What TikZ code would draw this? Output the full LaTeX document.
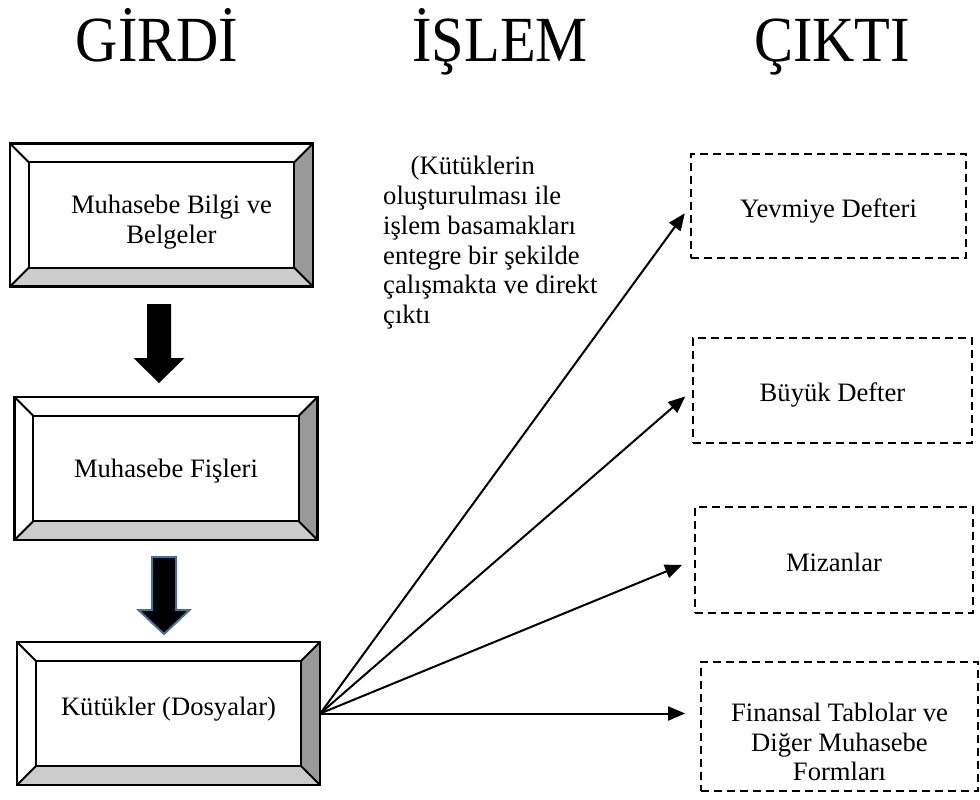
\documentclass[tikz,border=0pt]{standalone}
\usepackage{fontspec}
\setmainfont{Liberation Serif}
\usetikzlibrary{arrows.meta,calc}
\definecolor{sagkenar}{HTML}{999999}
\definecolor{altkenar}{HTML}{CCCCCC}
\definecolor{okmavi}{HTML}{41719C}

\tikzset{
 kutu/.style={minimum width=303pt, minimum height=143pt, inner sep=0pt},
 yazi/.style={font=\fontsize{26.6}{29.8}\selectfont, align=center, inner sep=0pt},
 cikti/.style={draw, dash pattern=on 8pt off 5pt, line width=1.8pt, inner sep=0pt,
   font=\fontsize{26.6}{29.8}\selectfont, align=center, text height=22pt, text depth=0pt},
 baslik/.style={font=\fontsize{58.5}{60}\selectfont, anchor=base, inner sep=0pt, yscale=1.1},
 ok/.style={line width=2pt, -{Triangle[length=17pt,width=14pt]}, shorten >=9pt}
}

% kabartmali cerceve
\newcommand{\cerceve}[1]{%
 \fill[sagkenar] (#1.north east) -- ([shift={(-19,19)}]#1.north east)
   -- ([shift={(-19,-19)}]#1.south east) -- (#1.south east) -- cycle;
 \fill[altkenar] (#1.south west) -- ([shift={(19,-19)}]#1.south west)
   -- ([shift={(-19,-19)}]#1.south east) -- (#1.south east) -- cycle;
 \draw[line width=2pt] ([shift={(19,19)}]#1.north west) rectangle ([shift={(-19,-19)}]#1.south east);
 \draw[line width=2pt] (#1.north west) -- ++(19,19) (#1.north east) -- ++(-19,19)
   (#1.south east) -- ++(-19,-19) (#1.south west) -- ++(19,-19);
 \draw[line width=2.5pt] (#1.north west) rectangle (#1.south east);
}

\begin{document}
\begin{tikzpicture}[x=1pt, y=-1pt]
 \useasboundingbox (0,0) rectangle (980,800);

	% Basliklar
 \node[baslik] (girdi) at (157,62) {GİRDİ};
 \node[baslik] (islem) at (500,62) {İŞLEM};
 \node[baslik] (cikti) at (832,62) {ÇIKTI};

	% Girdi kutulari
 \node[kutu] (bilgi) at (161.5,215) {};
 \cerceve{bilgi}
 \node[yazi, xshift=10pt, yshift=-7pt] (bilgiyazi) at (bilgi) {Muhasebe Bilgi ve\\Belgeler};

 \node[kutu] (fis) at (166,468.5) {};
 \cerceve{fis}
 \node[yazi, yshift=-3pt] (fisyazi) at (fis) {Muhasebe Fişleri};

 \node[kutu] (kutuk) at (168.5,713.5) {};
 \cerceve{kutuk}
 \node[yazi, yshift=4pt] (kutukyazi) at (kutuk) {Kütükler (Dosyalar)};

	% Kalin oklar
 \fill[black] (147,304) -- (171,304) -- (171,358) -- (184.5,358) -- (159,383)
   -- (133.5,358) -- (147,358) -- cycle;
 \filldraw[fill=black, draw=okmavi, line width=2pt, line join=miter]
   (152,557) -- (176,557) -- (176,610) -- (189.5,610) -- (164,634)
   -- (138.5,610) -- (152,610) -- cycle;

	% Aciklama
 \node[yazi, align=left, anchor=north west] (aciklama) at (383,156)
   {\hspace*{27.5pt}(Kütüklerin\\oluşturulması ile\\işlem basamakları\\entegre bir şekilde\\çalışmakta ve direkt\\çıktı};

	% Cikti kutulari
 \node[cikti, minimum width=275pt, minimum height=104pt] (yevmiye) at (828.5,206) {Yevmiye Defteri};
 \node[cikti, minimum width=279pt, minimum height=105pt] (buyuk) at (832.5,390.5) {Büyük Defter};
 \node[cikti, minimum width=278pt, minimum height=106pt] (mizan) at (834,560) {Mizanlar};
 \node[cikti, minimum width=277pt, minimum height=129pt] (finansal) at (839.5,726.5) {};
 \node[yazi] (finansalyazi) at (839.5,742) {Finansal Tablolar ve\\Diğer Muhasebe\\Formları};

	% Oklar
 \draw[ok] (kutuk.east) -- (yevmiye.west);
 \draw[ok] (kutuk.east) -- (buyuk.west);
 \draw[ok, shorten >=13pt] (kutuk.east) -- (mizan.west);
 \draw[ok, shorten >=15pt] (kutuk.east) -- (kutuk.east -| finansal.west);

\end{tikzpicture}
\end{document}
